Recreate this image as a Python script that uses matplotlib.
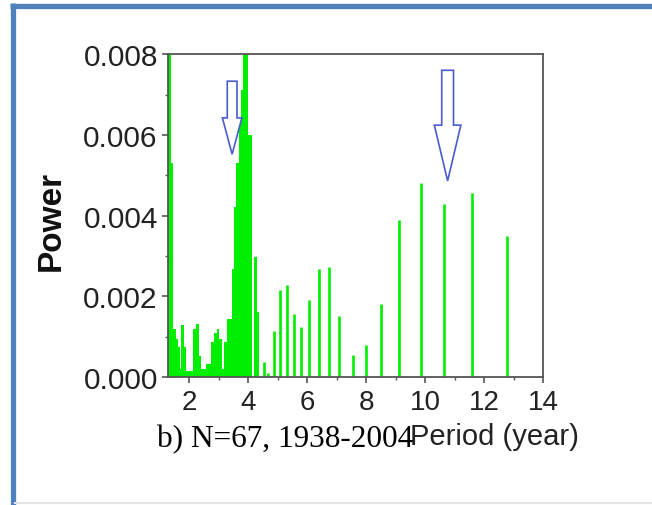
import numpy as np
import matplotlib
matplotlib.use("Agg")
import matplotlib.pyplot as plt
from matplotlib.patches import Polygon
from matplotlib.lines import Line2D
from matplotlib.ticker import MultipleLocator

# dense part of the spectrum (bin edges in years, power per bin)
dense_edges = [1.277, 1.38, 1.45, 1.55, 1.62, 1.67, 1.72, 1.82, 1.89, 2.13,
               2.23, 2.33, 2.38, 2.58, 2.75, 2.84, 2.93, 3.02, 3.10, 3.18,
               3.27, 3.45, 3.50, 3.59, 3.69, 3.76, 3.82, 3.99, 4.13, 4.20,
               4.30, 4.37]
dense_power = [0.0095, 0.0053, 0.00119, 0.00094, 0.00074, 0.0002, 0.00129,
               0.00074, 0.00016, 0.00119, 0.00131, 0.00053, 0.0002, 0.00032,
               0.00086, 0.0011, 0.00119, 0.00094, 0.0002, 0.00086, 0.00144,
               0.00268, 0.0042, 0.0053, 0.0064, 0.0071, 0.0095, 0.0060, 0.0,
               0.00297, 0.0016]

# isolated spectral lines
line_period = [4.53, 4.67, 4.86, 5.08, 5.31, 5.54, 5.79, 6.07, 6.41, 6.75,
               7.08, 7.54, 7.99, 8.51, 9.12, 9.85, 10.63, 11.59, 12.79]
line_power = [0.00036, 0.0001, 0.00113, 0.00216, 0.00229, 0.00156, 0.00123,
              0.00191, 0.00268, 0.00272, 0.00152, 0.00055, 0.0008, 0.00181,
              0.00389, 0.00481, 0.00428, 0.00457, 0.00349]

# arrows marking the peaks
arrow_period = [3.45, 10.76]
arrow_tip = [0.00552, 0.00486]
arrow_top = [0.00733, 0.0076]

green = '#00ee00'
blue = '#4a5ccf'

fig = plt.figure(figsize=(6.52, 5.06), dpi=100)
ax = fig.add_axes([0.257, 0.253, 0.576, 0.638])

ax.stairs(dense_power, dense_edges, fill=True, color=green, lw=0)
ax.vlines(line_period, 0, line_power, color=green, lw=1.9)

# outlined arrows (shaft half width, head half width, head length)
shape = [(0.165, 0.33, 0.0009), (0.2, 0.45, 0.00138)]
for x, tip, top, (sw, hw, hl) in zip(arrow_period, arrow_tip, arrow_top, shape):
    base = tip + hl
    pts = [(x - sw, top), (x + sw, top), (x + sw, base), (x + hw, base),
           (x, tip), (x - hw, base), (x - sw, base)]
    ax.add_patch(Polygon(pts, closed=True, facecolor='white',
                         edgecolor=blue, lw=1.2, zorder=5))

ax.set_xlim(1.26, 14)
ax.set_ylim(0, 0.008)
ax.xaxis.set_major_locator(MultipleLocator(2))
ax.xaxis.set_minor_locator(MultipleLocator(1))
ax.yaxis.set_major_locator(MultipleLocator(0.002))
ax.yaxis.set_minor_locator(MultipleLocator(0.001))
ax.yaxis.set_major_formatter(matplotlib.ticker.FormatStrFormatter('%.3f'))

for s in ax.spines.values():
    s.set_color('#555555')
    s.set_linewidth(1.3)
    s.set_zorder(6)
ax.tick_params(which='major', direction='out', length=4, width=1.2,
               color='#555555', labelcolor='#222222',
               labelfontfamily='Liberation Sans', pad=3)
ax.tick_params(which='minor', direction='out', length=2.5, width=1.0,
               color='#555555')
ax.tick_params(axis='x', pad=5, labelsize=20)
ax.tick_params(axis='y', labelsize=21.5)

fig.text(0.078, 0.563, 'Power', rotation=90, ha='center', va='center',
         fontsize=24, fontweight='bold', family='Liberation Sans',
         color='#111111')
fig.text(0.758, 0.136, 'Period (year)', ha='center', va='center',
         fontsize=21, family='Liberation Sans', color='#222222')
fig.text(0.241, 0.117, 'b) N=67, 1938-2004', ha='left', va='baseline',
         fontsize=22.5, family='Liberation Serif', color='black')

# slide frame
frame = '#4f81bd'
fig.add_artist(Line2D([12.5 / 652, 12.5 / 652], [0, 1 - 4 / 506],
                      color=frame, lw=3.8, solid_capstyle='butt'))
fig.add_artist(Line2D([10 / 652, 1], [1 - 6.5 / 506, 1 - 6.5 / 506],
                      color=frame, lw=3.8, solid_capstyle='butt'))
fig.add_artist(Line2D([15 / 652, 1], [2 / 506, 2 / 506],
                      color='#e4e4e4', lw=1.5))

fig.savefig('out.png', dpi=100)
